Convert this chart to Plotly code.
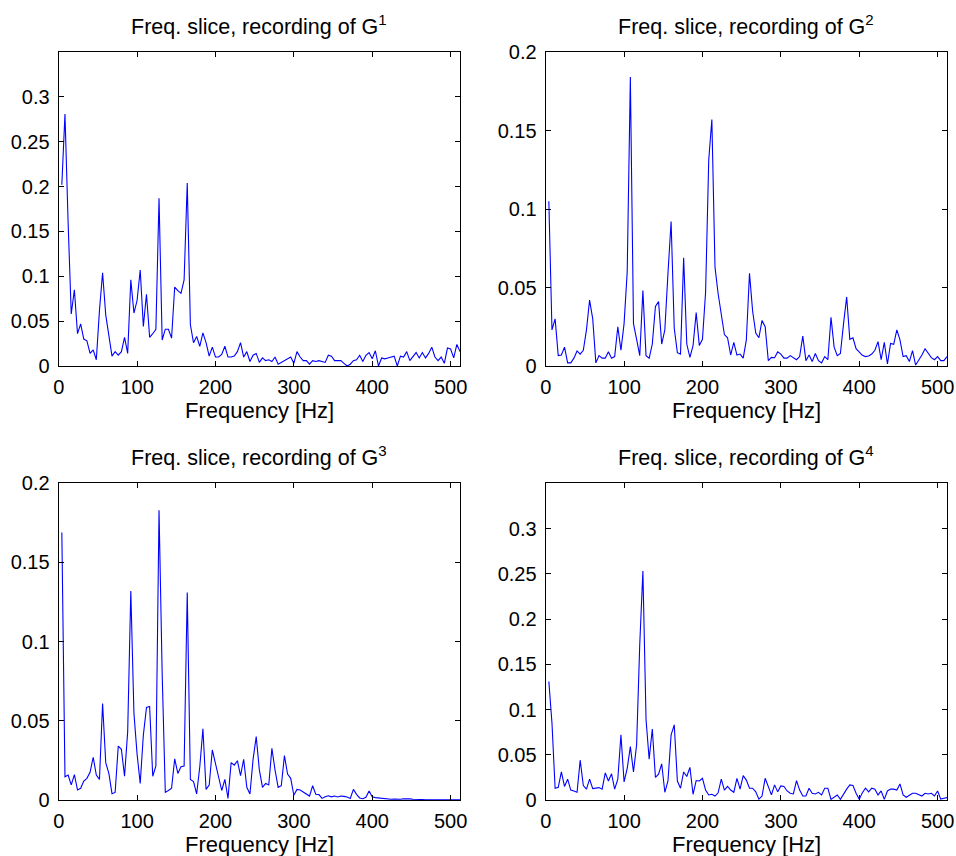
import plotly.graph_objects as go

freq = list(range(4, 516, 4))

g1 = [0.202, 0.281, 0.160, 0.058, 0.085, 0.036, 0.047, 0.030, 0.028, 0.014,
      0.018, 0.007, 0.062, 0.104, 0.057, 0.036, 0.011, 0.016, 0.012, 0.016,
      0.032, 0.014, 0.096, 0.059, 0.073, 0.107, 0.044, 0.080, 0.032, 0.036,
      0.041, 0.187, 0.029, 0.041, 0.041, 0.031, 0.088, 0.084, 0.081, 0.096,
      0.204, 0.046, 0.026, 0.033, 0.022, 0.037, 0.026, 0.011, 0.021, 0.010,
      0.010, 0.013, 0.022, 0.010, 0.010, 0.011, 0.016, 0.026, 0.010, 0.016,
      0.005, 0.012, 0.014, 0.004, 0.009,
      0.006, 0.007, 0.005, 0.010, 0.002, 0.004, 0.006, 0.008, 0.010, 0.003,
      0.016, 0.010, 0.006, 0.006, 0.002, 0.006, 0.005, 0.006, 0.005, 0.004,
      0.012, 0.011, 0.006, 0.006, 0.006, 0.003, 0.000, 0.002, 0.006, 0.007,
      0.012, 0.005, 0.012, 0.015, 0.008, 0.017, 0.000, 0.009, 0.008, 0.009,
      0.010, 0.011, 0.000, 0.011, 0.010, 0.016, 0.006, 0.011, 0.015, 0.009,
      0.015, 0.009, 0.014, 0.021, 0.010, 0.006, 0.010, 0.003, 0.020, 0.019,
      0.009, 0.024, 0.016]

g2 = [0.105, 0.023, 0.030, 0.0066, 0.007, 0.012, 0.002, 0.002, 0.005, 0.0096,
      0.0076, 0.010, 0.023, 0.042, 0.030, 0.002, 0.0066, 0.005, 0.005, 0.009,
      0.005, 0.006, 0.025, 0.010, 0.027, 0.060, 0.184, 0.027, 0.017, 0.0066,
      0.048, 0.0066, 0.005, 0.014, 0.038, 0.041, 0.014, 0.023, 0.059, 0.092,
      0.024, 0.0085, 0.0076, 0.069, 0.014, 0.0055, 0.013, 0.034, 0.013, 0.017,
      0.047, 0.131, 0.157, 0.063, 0.046, 0.034, 0.020, 0.018, 0.007, 0.015,
      0.007, 0.0076, 0.005, 0.0166, 0.059,
      0.035, 0.021, 0.018, 0.029, 0.025, 0.0034, 0.0055, 0.0053, 0.009, 0.0076,
      0.005, 0.005, 0.0066, 0.0055, 0.004, 0.006, 0.019, 0.0034, 0.007, 0.0028,
      0.008, 0.0034, 0.002, 0.006, 0.004, 0.031, 0.012, 0.0066, 0.008, 0.027,
      0.044, 0.017, 0.018, 0.011, 0.0087, 0.0068, 0.006, 0.0064, 0.0076, 0.010,
      0.0155, 0.004, 0.015, 0.0013, 0.0144, 0.0138, 0.023, 0.0166, 0.006, 0.0066,
      0.0028, 0.0098, 0.0006, 0.0034, 0.007, 0.011, 0.008, 0.0053, 0.004, 0.006,
      0.0034, 0.0034, 0.006]

g3 = [0.169, 0.0147, 0.0158, 0.0095, 0.016, 0.0063, 0.0074, 0.012, 0.0137, 0.0175,
      0.027, 0.0158, 0.013, 0.061, 0.0236, 0.0168, 0.004, 0.0048, 0.034, 0.032,
      0.015, 0.043, 0.132, 0.0547, 0.029, 0.0105, 0.041, 0.0585, 0.059, 0.015,
      0.0215, 0.183, 0.080, 0.0048, 0.006, 0.0074, 0.026, 0.0168, 0.021, 0.0215,
      0.131, 0.013, 0.0116, 0.0038, 0.021, 0.045, 0.0067, 0.0095, 0.0316, 0.023,
      0.0147, 0.006, 0.013, 0.001, 0.0236, 0.022, 0.0248, 0.0154, 0.0257, 0.008,
      0.0038, 0.0257, 0.040, 0.019,
      0.008, 0.0105, 0.0095, 0.0326, 0.019, 0.008, 0.009, 0.028, 0.0164, 0.0137,
      0.003, 0.0067, 0.0063, 0.005, 0.0038, 0.0025, 0.009, 0.0036, 0.0034, 0.001,
      0.002, 0.0027, 0.002, 0.0025, 0.0019, 0.0025, 0.0023, 0.0019, 0.001, 0.0067,
      0.0036, 0.0013, 0.0008, 0.0017, 0.0057, 0.002, 0.0015, 0.0013, 0.0008, 0.001,
      0.0006, 0.0005, 0.0006, 0.0004, 0.0005, 0.0008, 0.0009, 0.0007, 0.0005, 0.0003,
      0.0002, 0.0003, 0.0002, 0.0002, 0.0002, 0.0003, 0.0002, 0.0002, 0.0002, 0.0002,
      0.0002, 0.0002, 0.0002, 0.0002]

g4 = [0.131, 0.085, 0.013, 0.014, 0.031, 0.015, 0.023, 0.011, 0.010, 0.0085,
      0.044, 0.016, 0.012, 0.023, 0.0126, 0.013, 0.0137, 0.012, 0.030, 0.021,
      0.029, 0.012, 0.023, 0.072, 0.020, 0.035, 0.059, 0.031, 0.061, 0.172,
      0.253, 0.089, 0.045, 0.0785, 0.025, 0.0285, 0.040, 0.0085, 0.021, 0.072,
      0.083, 0.021, 0.013, 0.031, 0.026, 0.036, 0.0063, 0.0215, 0.021, 0.024,
      0.011, 0.0056, 0.0063, 0.0044, 0.008, 0.023, 0.011, 0.015, 0.011, 0.0085,
      0.024, 0.012, 0.027, 0.022, 0.013,
      0.013, 0.009, 0.001, 0.0044, 0.024, 0.015, 0.0056, 0.0167, 0.009, 0.0156,
      0.015, 0.010, 0.0074, 0.0067, 0.0215, 0.011, 0.0044, 0.0044, 0.013, 0.0074,
      0.0067, 0.0085, 0.0056, 0.013, 0.013, 0.0007, 0.003, 0.0056, 0.0007, 0.0067,
      0.012, 0.0167, 0.016, 0.0074, 0.0007, 0.008, 0.013, 0.009, 0.013, 0.012,
      0.0056, 0.010, 0.0007, 0.010, 0.012, 0.012, 0.011, 0.0178, 0.0056, 0.003,
      0.0056, 0.0074, 0.0074, 0.0056, 0.0044, 0.0074, 0.0067, 0.0074, 0.0044, 0.010,
      0.001, 0.0019, 0.0026]

series = [g1, g2, g3, g4]
titles = ["Freq. slice, recording of G<sup>1</sup>",
          "Freq. slice, recording of G<sup>2</sup>",
          "Freq. slice, recording of G<sup>3</sup>",
          "Freq. slice, recording of G<sup>4</sup>"]
x_ticks = [0, 100, 200, 300, 400, 500]
y_ticks_big = [0, 0.05, 0.1, 0.15, 0.2, 0.25, 0.3]
y_text_big = ["0", "0.05", "0.1", "0.15", "0.2", "0.25", "0.3"]
y_ticks_small = [0, 0.05, 0.1, 0.15, 0.2]
y_text_small = ["0", "0.05", "0.1", "0.15", "0.2"]
y_max = [0.35, 0.2, 0.2, 0.35]
x_label = "Frequency [Hz]"

W, H = 956, 856
FONT = "Liberation Sans, Arial, Helvetica, sans-serif"
# pixel boxes (left, right, top, bottom)
boxes = [(58.7, 460, 52, 366), (545.7, 947, 52, 366),
         (58.7, 460, 483.3, 800), (545.7, 947, 483.3, 800)]

fig = go.Figure()
layout = dict(width=W, height=H, margin=dict(l=0, r=0, t=0, b=0),
              paper_bgcolor="white", plot_bgcolor="white", showlegend=False,
              font=dict(family=FONT, size=20, color="black"))
annotations = []
for i, (vals, ttl, ym, box) in enumerate(zip(series, titles, y_max, boxes)):
    n = "" if i == 0 else str(i + 1)
    fig.add_trace(go.Scatter(x=freq, y=vals, mode="lines",
                             line=dict(color="#0000ff", width=1.1),
                             xaxis="x" + n, yaxis="y" + n))
    l, r, t, b = box
    xd = [l / W, r / W]
    yd = [1 - b / H, 1 - t / H]
    big = ym > 0.3
    common = dict(showline=True, linecolor="black", linewidth=1.2, mirror="ticks",
                  ticks="inside", ticklen=5, tickwidth=1, tickcolor="black",
                  showgrid=False, zeroline=False, automargin=False,
                  tickfont=dict(family=FONT, size=20, color="black"))
    layout["xaxis" + n] = dict(domain=xd, range=[0, 512], tickvals=x_ticks,
                               anchor="y" + n, ticklabelstandoff=3, **common)
    layout["yaxis" + n] = dict(domain=yd, range=[0, ym],
                               tickvals=y_ticks_big if big else y_ticks_small,
                               ticktext=y_text_big if big else y_text_small,
                               anchor="x" + n, ticklabelstandoff=4, **common)
    cx = (l + r) / 2 / W
    annotations.append(dict(text=ttl, x=cx, y=1 - (t - 27) / H, xref="paper", yref="paper",
                            xanchor="center", yanchor="middle", showarrow=False,
                            font=dict(family=FONT, size=21.5, color="black")))
    annotations.append(dict(text=x_label, x=cx, y=1 - (b + 44) / H, xref="paper", yref="paper",
                            xanchor="center", yanchor="middle", showarrow=False,
                            font=dict(family=FONT, size=22, color="black")))
layout["annotations"] = annotations
fig.update_layout(**layout)
fig.write_html("out.html")
